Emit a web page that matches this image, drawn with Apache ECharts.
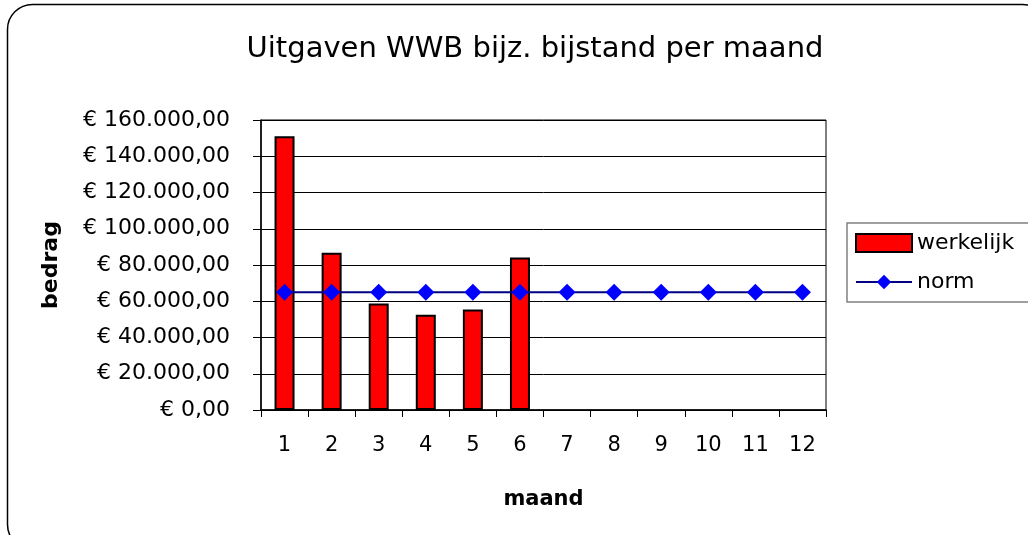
<!DOCTYPE html>
<html>
<head>
<meta charset="utf-8">
<script src="https://cdn.jsdelivr.net/npm/echarts@6/dist/echarts.min.js"></script>
<style>
html,body{margin:0;padding:0;background:#fff;}
#chart{width:1028px;height:535px;}
</style>
</head>
<body>
<div id="chart"></div>
<script>
var titleText = 'Uitgaven WWB bijz. bijstand per maand';
var months = ['1','2','3','4','5','6','7','8','9','10','11','12'];
var werkelijk = [151000, 86700, 58800, 52500, 55500, 84100, null, null, null, null, null, null];
var norm = [65000, 65000, 65000, 65000, 65000, 65000, 65000, 65000, 65000, 65000, 65000, 65000];
var yTickValues = [0, 20000, 40000, 60000, 80000, 100000, 120000, 140000, 160000];
var yTickLabels = ['€ 0,00','€ 20.000,00','€ 40.000,00','€ 60.000,00','€ 80.000,00','€ 100.000,00','€ 120.000,00','€ 140.000,00','€ 160.000,00'];
var seriesNames = ['werkelijk', 'norm'];
var xAxisName = 'maand';
var yAxisName = 'bedrag';

var FONT = '"DejaVu Sans", sans-serif';
var chart = echarts.init(document.getElementById('chart'), null, {renderer: 'canvas'});
chart.setOption({
  animation: false,
  backgroundColor: '#ffffff',
  textStyle: {fontFamily: FONT, color: '#000'},
  title: {
    text: titleText,
    left: 530, top: 30,
    textAlign: 'center',
    textStyle: {fontFamily: FONT, fontSize: 29, fontWeight: 'normal', color: '#000'}
  },
  graphic: [{
    type: 'rect', silent: true,
    shape: {x: 7.5, y: 4.5, width: 1040, height: 545, r: 25},
    style: {fill: 'none', stroke: '#000', lineWidth: 1.5}
  }],
  legend: {
    orient: 'vertical',
    left: 847, top: 223,
    itemWidth: 56, itemHeight: 18, itemGap: 17,
    padding: [9, 40, 9, 8],
    borderColor: '#808080', borderWidth: 1.5,
    backgroundColor: '#fff',
    textStyle: {fontFamily: FONT, fontSize: 22, color: '#000'},
    data: [{name: seriesNames[0], icon: 'rect'}, {name: seriesNames[1]}]
  },
  grid: {
    left: 261, top: 120, right: 202, bottom: 125,
    show: true, borderColor: '#000', borderWidth: 1, backgroundColor: '#fff'
  },
  xAxis: {
    type: 'category',
    data: months,
    boundaryGap: true,
    name: xAxisName,
    nameLocation: 'middle',
    nameGap: 79,
    nameTextStyle: {fontFamily: FONT, fontSize: 21, fontWeight: 'bold', color: '#000'},
    axisLine: {lineStyle: {color: '#000', width: 1.5}},
    axisTick: {show: true, length: 7, alignWithLabel: false, lineStyle: {color: '#000', width: 1}},
    axisLabel: {margin: 25, fontFamily: FONT, fontSize: 21, color: '#000'},
    splitLine: {show: false}
  },
  yAxis: {
    type: 'value',
    min: 0, max: 160000, interval: 20000,
    name: yAxisName,
    nameLocation: 'middle',
    nameGap: 199,
    nameRotate: 90,
    nameTextStyle: {fontFamily: FONT, fontSize: 22, fontWeight: 'bold', color: '#000'},
    axisLine: {show: true, lineStyle: {color: '#000', width: 1.5}},
    axisTick: {show: true, length: 8, lineStyle: {color: '#000', width: 1}},
    axisLabel: {
      margin: 31, fontFamily: FONT, fontSize: 22, color: '#000',
      formatter: function (v) { var i = yTickValues.indexOf(v); return i >= 0 ? yTickLabels[i] : ''; }
    },
    splitLine: {show: true, lineStyle: {color: '#000', width: 1}}
  },
  series: [{
    name: seriesNames[0],
    type: 'bar',
    data: werkelijk,
    barWidth: 20,
    itemStyle: {color: '#ff0000', borderColor: '#000', borderWidth: 2}
  }, {
    name: seriesNames[1],
    type: 'line',
    data: norm,
    symbol: 'diamond',
    symbolSize: 17,
    showAllSymbol: true,
    lineStyle: {color: '#000080', width: 2},
    itemStyle: {color: '#0000ff', borderWidth: 0},
    z: 5
  }]
});
</script>
</body>
</html>
